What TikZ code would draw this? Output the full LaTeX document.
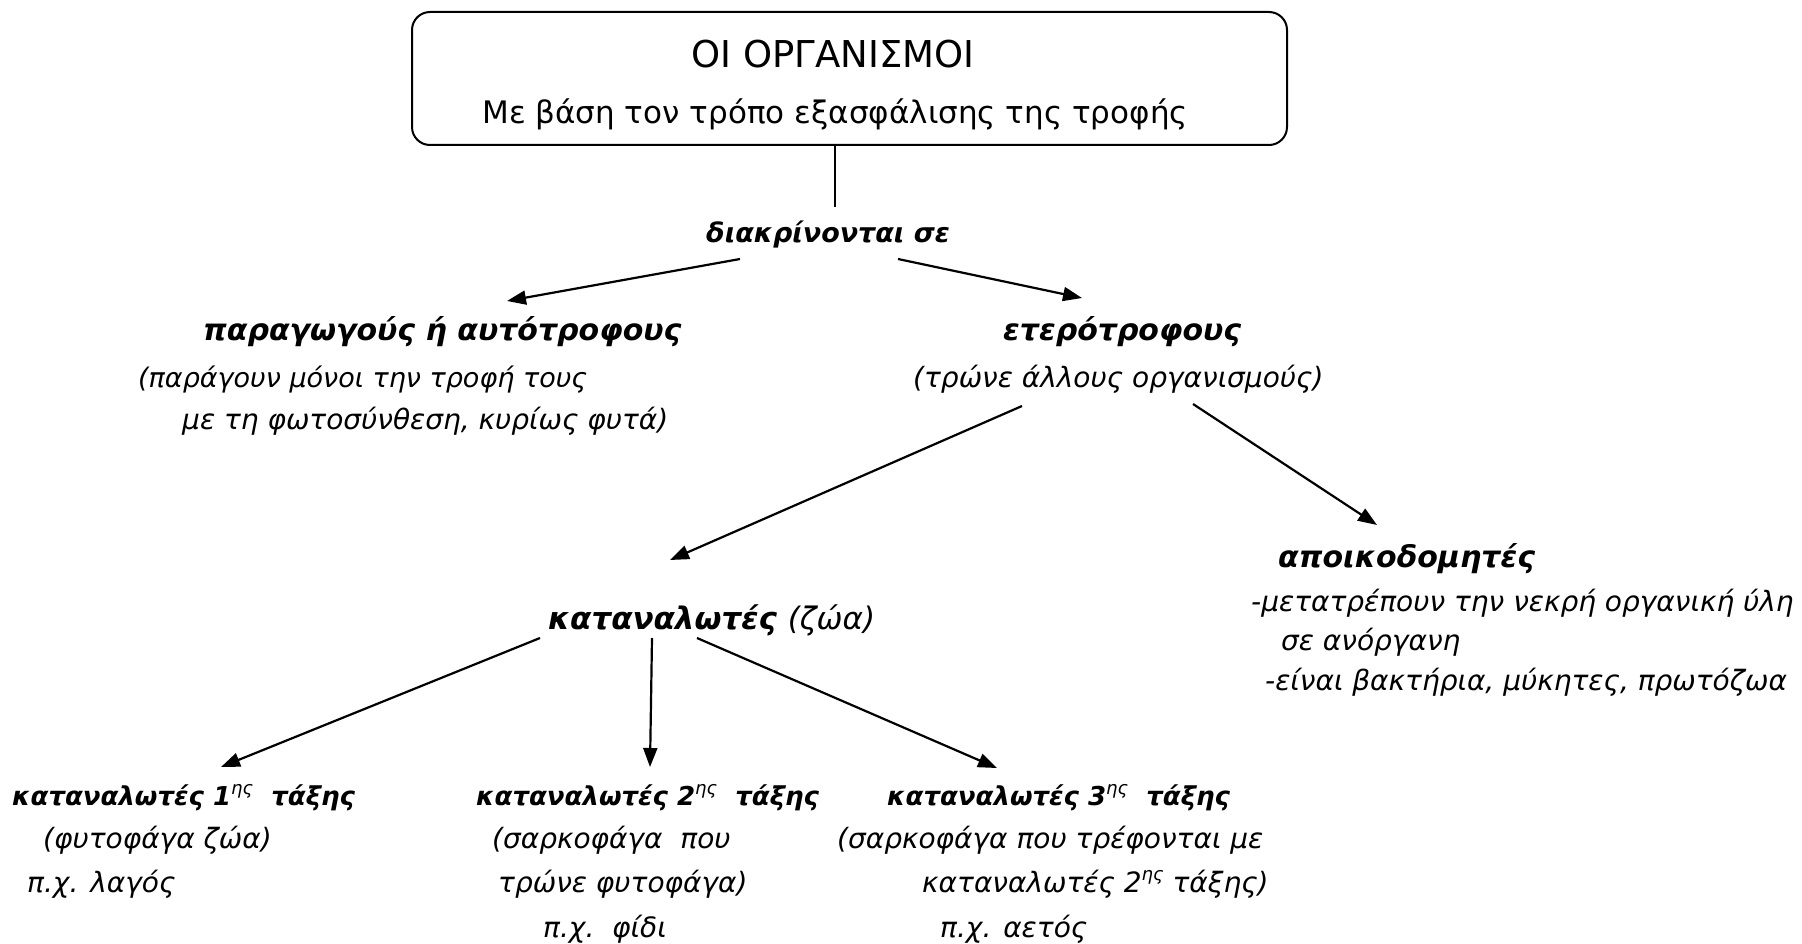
\documentclass[tikz,border=0pt]{standalone}
\usepackage{fontspec}
\setmainfont{DejaVu Sans}
\usetikzlibrary{arrows.meta}
% superscript ordinal ending, set in the regular weight
\newcommand{\ordsup}[1]{\raisebox{0.40em}{\fontsize{18}{18}\selectfont\mdseries #1}}
\begin{document}
\begin{tikzpicture}[x=1pt,y=-1pt,
  txt/.style={inner sep=0pt, anchor=base west},
  titletxt/.style={inner sep=0pt, anchor=base, font=\fontsize{31}{36}\selectfont},
  headbig/.style={txt, font=\fontsize{30}{34}\selectfont\bfseries\itshape},
  headcons/.style={txt, font=\fontsize{31}{36}\selectfont\bfseries\itshape},
  headmid/.style={txt, font=\fontsize{27}{32}\selectfont\bfseries\itshape},
  headsmall/.style={txt, font=\fontsize{26}{30}\selectfont\bfseries\itshape},
  note/.style={txt, font=\fontsize{28}{34}\selectfont\itshape},
  titlebox/.style={draw, line width=2pt, rounded corners=18pt,
    minimum width=875pt, minimum height=133pt, inner sep=0pt},
  link/.style={line width=2.2pt},
  arr/.style={line width=2.2pt, -{Triangle[length=19pt,width=14pt]}}]
\useasboundingbox (0,0) rectangle (1802,944);

% title box
\node[titlebox] (box) at (849.5,78.5) {};
\node[titletxt, font=\fontsize{37}{40}\selectfont] (t1) at (833,68) {ΟΙ ΟΡΓΑΝΙΣΜΟΙ};
\node[titletxt] (t2) at (835,124) {Με βάση τον τρόπο εξασφάλισης της τροφής};

% first split
\node[headmid] (dis) at (706,243) {διακρίνονται σε};

\node[headbig] (prod) at (203,340) {παραγωγούς ή αυτότροφους};
\node[note, font=\fontsize{27}{34}\selectfont\itshape] (prodA) at (138,387) {(παράγουν μόνοι την τροφή τους};
\node[note] (prodB) at (182,429) {με τη φωτοσύνθεση, κυρίως φυτά)};

\node[headbig] (het) at (1003,340) {ετερότροφους};
\node[note] (hetA) at (913,387) {(τρώνε άλλους οργανισμούς)};

% decomposers
\node[headbig] (dec) at (1278,567) {αποικοδομητές};
\node[note] (decA) at (1251,611) {-μετατρέπουν την νεκρή οργανική ύλη};
\node[note] (decB) at (1281,650) {σε ανόργανη};
\node[note] (decC) at (1265,690) {-είναι βακτήρια, μύκητες, πρωτόζωα};

% consumers
\node[headcons] (cons) at (548,629) {καταναλωτές {\mdseries(ζώα)}};

\node[headsmall] (c1) at (12,805) {καταναλωτές 1\ordsup{ης}\ \ τάξης};
\node[note] (c1A) at (43,848) {(φυτοφάγα ζώα)};
\node[note] (c1B) at (27,892) {π.χ. λαγός};

\node[headsmall] (c2) at (476,805) {καταναλωτές 2\ordsup{ης}\ \ τάξης};
\node[note] (c2A) at (492,848) {(σαρκοφάγα\ \ που};
\node[note] (c2B) at (498,892) {τρώνε φυτοφάγα)};
\node[note] (c2C) at (543,937) {π.χ.\ \ φίδι};

\node[headsmall] (c3) at (887,805) {καταναλωτές 3\ordsup{ης}\ \ τάξης};
\node[note] (c3A) at (837,848) {(σαρκοφάγα που τρέφονται με};
\node[note] (c3B) at (922,892) {καταναλωτές 2\ordsup{ης} τάξης)};
\node[note] (c3C) at (940,937) {π.χ. αετός};

% connectors
\draw[link] ([xshift=-14.5pt]box.south) -- ([shift={(129,-36)}]dis.base west);
\draw[arr] ([shift={(34,16)}]dis.base west) -- ([shift={(304,-39)}]prod.base west);
\draw[arr] ([shift={(192,16)}]dis.base west) -- ([shift={(79,-42)}]het.base west);
\draw[arr] ([shift={(109,19)}]hetA.base west) -- ([shift={(122,-69)}]cons.base west);
\draw[arr] ([shift={(280,17)}]hetA.base west) -- ([shift={(99,-42)}]dec.base west);
\draw[arr] ([shift={(-8,9)}]cons.base west) -- ([shift={(209,-38)}]c1.base west);
\draw[arr] ([shift={(104,9)}]cons.base west) -- ([shift={(174,-38)}]c2.base west);
\draw[arr] ([shift={(149,9)}]cons.base west) -- ([shift={(110,-37)}]c3.base west);
\end{tikzpicture}
\end{document}
